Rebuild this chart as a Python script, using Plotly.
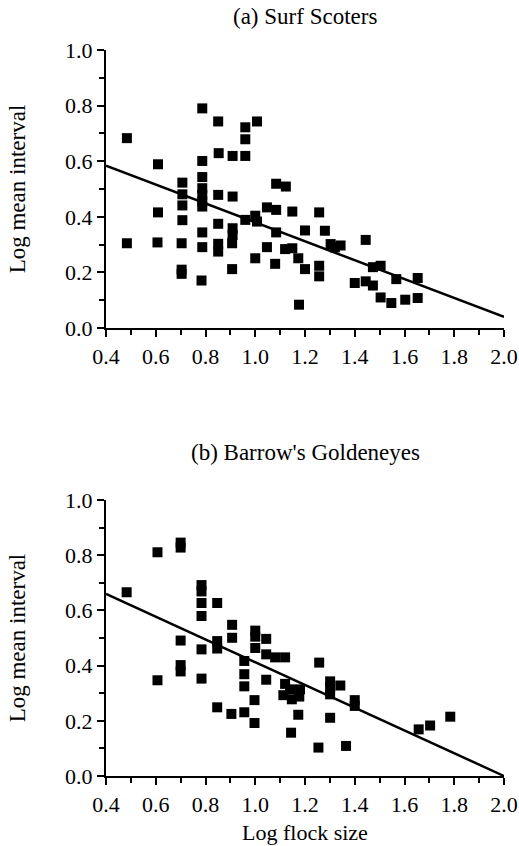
import plotly.graph_objects as go
from plotly.subplots import make_subplots

# Panel (a) Surf Scoters
a_x = [0.484, 0.484, 0.609, 0.609, 0.607, 0.707, 0.707, 0.707, 0.707, 0.704, 0.704, 0.704,
       0.787, 0.787, 0.787, 0.787, 0.787, 0.787, 0.787, 0.787, 0.787, 0.784,
       0.851, 0.853, 0.851, 0.851, 0.851, 0.851,
       0.909, 0.909, 0.909, 0.909, 0.907, 0.907,
       0.96, 0.96, 0.96, 0.96, 1.0, 1.007, 1.007, 1.0,
       1.047, 1.084, 1.084, 1.084, 1.08, 1.123, 1.047, 1.12, 1.149, 1.149,
       1.173, 1.176, 1.2, 1.2,
       1.257, 1.28, 1.257, 1.257, 1.303, 1.32, 1.343,
       1.4, 1.444, 1.444, 1.473, 1.473, 1.504, 1.504, 1.547, 1.567, 1.603, 1.653, 1.653]
a_y = [0.683, 0.305, 0.589, 0.416, 0.308, 0.523, 0.481, 0.441, 0.388, 0.305, 0.21, 0.195,
       0.790, 0.601, 0.543, 0.503, 0.479, 0.455, 0.437, 0.344, 0.291, 0.171,
       0.743, 0.629, 0.479, 0.375, 0.303, 0.275,
       0.619, 0.473, 0.359, 0.335, 0.305, 0.212,
       0.722, 0.679, 0.619, 0.389, 0.404, 0.383, 0.743, 0.251,
       0.434, 0.519, 0.425, 0.344, 0.231, 0.509, 0.291, 0.284, 0.419, 0.287,
       0.251, 0.084, 0.351, 0.212,
       0.416, 0.35, 0.224, 0.186, 0.302, 0.29, 0.297,
       0.162, 0.317, 0.168, 0.153, 0.219, 0.224, 0.11, 0.09, 0.176, 0.102, 0.18, 0.108]
a_fit_x = [0.4, 2.0]
a_fit_y = [0.584, 0.040]

# Panel (b) Barrow's Goldeneyes
b_x = [0.483, 0.607, 0.607, 0.7, 0.7, 0.7, 0.7, 0.7,
       0.784, 0.784, 0.784, 0.784, 0.784, 0.784,
       0.847, 0.847, 0.847, 0.847, 0.907, 0.907, 0.904,
       0.956, 0.956, 0.956, 0.956, 1.0, 1.0, 1.0, 0.997, 0.997,
       1.044, 1.044, 1.044, 1.08, 1.12, 1.12, 1.14, 1.113, 1.18, 1.177, 1.147, 1.144, 1.173,
       1.257, 1.301, 1.301, 1.342, 1.301, 1.301, 1.254, 1.4, 1.4, 1.365,
       1.657, 1.703, 1.784]
b_y = [0.666, 0.811, 0.347, 0.846, 0.828, 0.491, 0.402, 0.379,
       0.692, 0.669, 0.627, 0.580, 0.459, 0.353,
       0.627, 0.489, 0.462, 0.249, 0.548, 0.501, 0.225,
       0.417, 0.369, 0.325, 0.231, 0.527, 0.505, 0.464, 0.275, 0.192,
       0.497, 0.441, 0.349, 0.43, 0.43, 0.334, 0.314, 0.293, 0.314, 0.288, 0.278, 0.157, 0.222,
       0.411, 0.343, 0.320, 0.328, 0.296, 0.211, 0.103, 0.275, 0.254, 0.109,
       0.169, 0.183, 0.215]
b_fit_x = [0.4, 2.0]
b_fit_y = [0.660, 0.0]

titles = ["(a) Surf Scoters", "(b) Barrow's Goldeneyes"]
x_title = "Log flock size"
y_title = "Log mean interval"
x_ticks = [0.4, 0.6, 0.8, 1.0, 1.2, 1.4, 1.6, 1.8, 2.0]
y_ticks = [0.0, 0.2, 0.4, 0.6, 0.8, 1.0]

FONT = "Liberation Serif"
FS_TICK = 22
FS_TITLE = 23

fig = make_subplots(rows=2, cols=1, vertical_spacing=0.0)

for row, (xs, ys, fx, fy) in enumerate([(a_x, a_y, a_fit_x, a_fit_y), (b_x, b_y, b_fit_x, b_fit_y)], start=1):
    fig.add_trace(go.Scatter(x=xs, y=ys, mode="markers",
                             marker=dict(symbol="square", size=10, color="black", line=dict(width=0)),
                             cliponaxis=False, showlegend=False), row=row, col=1)
    fig.add_trace(go.Scatter(x=fx, y=fy, mode="lines", line=dict(color="black", width=2.5),
                             cliponaxis=False, showlegend=False), row=row, col=1)

axis_common = dict(showline=True, linecolor="black", linewidth=2, showgrid=False, zeroline=False,
                   ticks="outside", ticklen=7, tickwidth=2, tickcolor="black", automargin=False,
                   tickfont=dict(family=FONT, size=FS_TICK, color="black"), tickformat=".1f",
                   minor=dict(ticks="outside", ticklen=5, tickwidth=2, tickcolor="black", dtick=0.1))

fig.update_xaxes(range=[0.4, 2.0], tickvals=x_ticks, ticklabelstandoff=1, **axis_common)
fig.update_yaxes(range=[0, 1.0], tickvals=y_ticks, **axis_common)

top_dom = [0.617, 1.0]
bot_dom = [0.0, 0.380]
ytitle = dict(text=y_title, font=dict(family=FONT, size=FS_TITLE, color="black"), standoff=33)
fig.update_layout(
    yaxis=dict(domain=top_dom, title=ytitle),
    yaxis2=dict(domain=bot_dom, title=ytitle),
    width=519, height=846,
    margin=dict(l=106, r=15, t=50, b=70),
    plot_bgcolor="white", paper_bgcolor="white",
    font=dict(family=FONT, color="black"),
)

fig.add_annotation(text=titles[0], xref="paper", yref="paper", x=0.5, y=1.0, yshift=34,
                   showarrow=False, font=dict(family=FONT, size=FS_TITLE, color="black"), yanchor="middle")
fig.add_annotation(text=titles[1], xref="paper", yref="paper", x=0.5, y=bot_dom[1], yshift=48,
                   showarrow=False, font=dict(family=FONT, size=FS_TITLE, color="black"), yanchor="middle")
fig.add_annotation(text=x_title, xref="paper", yref="paper", x=0.5, y=0.0, yshift=-56,
                   showarrow=False, font=dict(family=FONT, size=22, color="black"), yanchor="middle")

fig.write_html("out.html", config={"displayModeBar": False},
               post_script="document.body.style.margin='0px';")
